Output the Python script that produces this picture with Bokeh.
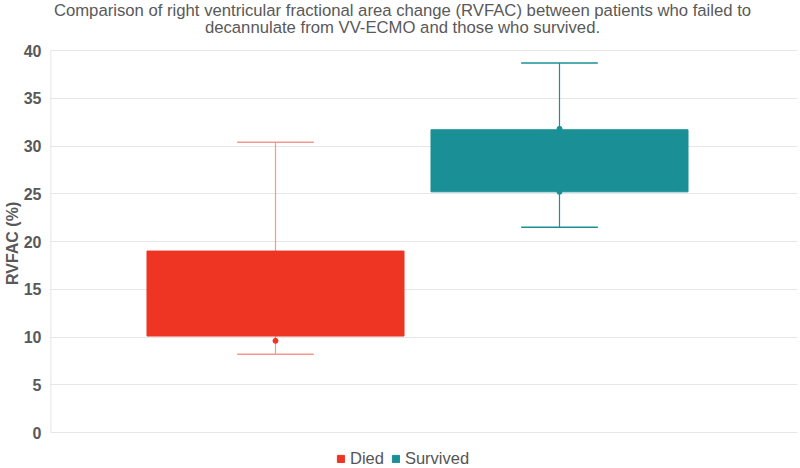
from bokeh.plotting import figure
from bokeh.models import Label, Legend, LegendItem, Range1d, ColumnDataSource, FixedTicker
from bokeh.embed import file_html
from bokeh.resources import INLINE

groups = ["Died", "Survived"]
positions = [1, 2]
low = [8.2, 21.5]
q1 = [10.1, 25.2]
q3 = [19.0, 31.7]
high = [30.4, 38.7]
colors = ["#EE3524", "#1A9096"]
whisker_colors = ["#F39890", "#1A9096"]
marker_x = [1, 2, 2]
marker_y = [9.6, 31.8, 25.2]
marker_colors = ["#EE3524", "#1A9096", "#1A9096"]
title_lines = ["Comparison of right ventricular fractional area change (RVFAC) between patients who failed to",
               "decannulate from VV-ECMO and those who survived."]
y_ticks = [0, 5, 10, 15, 20, 25, 30, 35, 40]

FONT = "Liberation Sans"
W, H = 798, 468
FRAME_L = 50          # px of frame left edge
PX_X = 284.0          # px per category step
PX_Y = 9.55           # px per y unit
Y_TOP_PX, Y_ZERO_PX = 50, 432

X0 = positions[0] - (275 - FRAME_L) / PX_X
X1 = X0 + (W - 1 - FRAME_L) / PX_X
YT = y_ticks[-1] + Y_TOP_PX / PX_Y
YB = -(H - Y_ZERO_PX) / PX_Y

p = figure(width=W, height=H, output_backend="svg", toolbar_location=None,
           x_range=Range1d(X0, X1), y_range=Range1d(YB, YT), x_axis_location=None,
           min_border_left=0, min_border_right=1, min_border_top=0, min_border_bottom=0)
p.title = None

# two-line title, positioned in frame (pixel targets -> data)
tx = X0 + (402 - FRAME_L) / PX_X
for line, ypx in zip(title_lines, [10, 27]):
    p.add_layout(Label(x=tx, y=YT - ypx / PX_Y, text=line, text_align="center",
                       text_baseline="middle", text_font=FONT, text_font_size="16.7px",
                       text_color="#595959"))

src = ColumnDataSource(dict(x=positions, low=low, q1=q1, q3=q3, high=high,
                            wcolor=whisker_colors,
                            cap_l=[x - 0.135 for x in positions], cap_r=[x + 0.135 for x in positions]))

# left axis line (0 to 40 only)
p.segment(x0=[X0], y0=[y_ticks[0]], x1=[X0], y1=[y_ticks[-1]], line_color="#DDDDDD", line_width=1.5)

p.segment(x0="x", y0="q3", x1="x", y1="high", line_color="wcolor", line_width=1.2, source=src)
p.segment(x0="x", y0="q1", x1="x", y1="low", line_color="wcolor", line_width=1.2, source=src)
p.segment(x0="cap_l", y0="high", x1="cap_r", y1="high", line_color="wcolor", line_width=1.5, source=src)
p.segment(x0="cap_l", y0="low", x1="cap_r", y1="low", line_color="wcolor", line_width=1.5, source=src)

items = []
for i, g in enumerate(groups):
    r = p.vbar(x=positions[i], width=0.905, bottom=q1[i], top=q3[i],
               fill_color=colors[i], line_color=colors[i], line_width=1)
    items.append(LegendItem(label=g, renderers=[r]))

p.scatter(marker_x, marker_y, size=5, fill_color=marker_colors, line_color=marker_colors)

legend = Legend(items=items, orientation="horizontal", location=(336 - FRAME_L, 0),
                label_text_font=FONT, label_text_font_size="16.5px", label_text_color="#555555",
                glyph_width=9, glyph_height=9, spacing=7, label_standoff=5,
                border_line_color=None, background_fill_alpha=0, padding=0, margin=0,
                label_height=16)
p.add_layout(legend, "center")

p.xgrid.visible = False
p.ygrid.ticker = FixedTicker(ticks=y_ticks)
p.ygrid.grid_line_color = "#E6E6E6"
p.yaxis.ticker = FixedTicker(ticks=y_ticks)
p.yaxis.axis_line_color = None
p.yaxis.major_tick_line_color = None
p.yaxis.minor_tick_line_color = None
p.yaxis.major_label_standoff = 3
p.yaxis.major_label_text_font = FONT
p.yaxis.major_label_text_font_size = "16px"
p.yaxis.major_label_text_font_style = "bold"
p.yaxis.major_label_text_color = "#595959"
p.yaxis.axis_label = "RVFAC (%)" + "\u00a0" * 4
p.yaxis.axis_label_text_font = FONT
p.yaxis.axis_label_text_font_size = "16px"
p.yaxis.axis_label_text_font_style = "bold"
p.yaxis.axis_label_text_color = "#595959"
p.yaxis.axis_label_standoff = 0
p.outline_line_color = None

open("out.html", "w").write(file_html(p, INLINE))
